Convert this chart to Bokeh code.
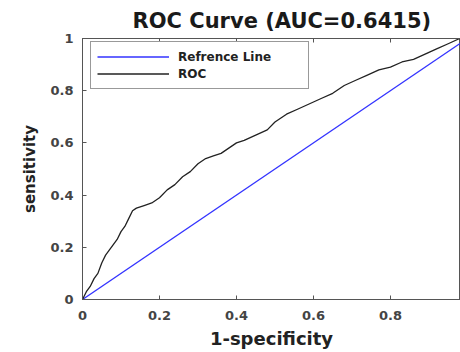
from bokeh.plotting import figure
from bokeh.models import LinearAxis, Legend, LegendItem, Range1d, FixedTicker
from bokeh.embed import file_html
from bokeh.resources import INLINE

# ---- data ----
fpr = [0, 0.01, 0.02, 0.03, 0.04, 0.05, 0.06, 0.07, 0.08, 0.09, 0.10, 0.11, 0.12,
       0.13, 0.14, 0.16, 0.18, 0.20, 0.22, 0.24, 0.26, 0.28, 0.30, 0.32, 0.34, 0.36,
       0.38, 0.40, 0.42, 0.45, 0.48, 0.50, 0.53, 0.56, 0.59, 0.62, 0.65, 0.68, 0.71,
       0.74, 0.77, 0.80, 0.83, 0.86, 0.89, 0.92, 0.95, 0.98, 1.0]
tpr = [0, 0.03, 0.05, 0.08, 0.10, 0.14, 0.17, 0.19, 0.21, 0.23, 0.26, 0.28, 0.31,
       0.34, 0.35, 0.36, 0.37, 0.39, 0.42, 0.44, 0.47, 0.49, 0.52, 0.54, 0.55, 0.56,
       0.58, 0.60, 0.61, 0.63, 0.65, 0.68, 0.71, 0.73, 0.75, 0.77, 0.79, 0.82, 0.84,
       0.86, 0.88, 0.89, 0.91, 0.92, 0.94, 0.96, 0.98, 1.0, 1.0]
ref_x = [0, 1]
ref_y = [0, 1]
ticks = [0, 0.2, 0.4, 0.6, 0.8, 1]
title_text = "ROC Curve (AUC=0.6415)"
xlabel = "1-specificity"
ylabel = "sensitivity"
ref_label = "Refrence Line"
roc_label = "ROC"

FONT = "DejaVu Sans"
AX = "#555555"

p = figure(width=460, height=352, output_backend="svg", toolbar_location=None,
           x_range=Range1d(0, 0.982), y_range=Range1d(0, 1),
           min_border_left=82, min_border_right=0, min_border_top=38,
           min_border_bottom=53, x_axis_location=None, y_axis_location=None)
p.background_fill_color = "white"
p.border_fill_color = "white"
p.grid.visible = False
p.outline_line_color = AX
p.outline_line_width = 1

p.title.text = title_text
p.title.align = "left"
p.title.text_font = FONT
p.title.text_font_size = "21px"
p.title.text_font_style = "bold"
p.title.text_color = "#1a1a1a"
p.title.offset = 50
p.title.standoff = 11


def style_axis(ax, labels=True):
    ax.ticker = FixedTicker(ticks=ticks)
    ax.axis_line_color = AX
    ax.major_tick_line_color = AX
    ax.major_tick_in = 4
    ax.major_tick_out = 0
    ax.minor_tick_line_color = None
    ax.major_label_text_font = FONT
    ax.major_label_text_font_style = "bold"
    ax.major_label_text_font_size = "13px"
    ax.major_label_text_color = "#444444"
    ax.axis_label_text_font = FONT
    ax.axis_label_text_font_style = "bold"
    ax.axis_label_text_color = "#222222"
    if not labels:
        ax.major_label_overrides = {t: "" for t in ticks}
        ax.major_label_standoff = 0


xb = LinearAxis(axis_label=xlabel)
style_axis(xb)
xb.major_label_standoff = 11
xb.axis_label_standoff = 5
xb.axis_label_text_font_size = "18px"
p.add_layout(xb, "below")

yl = LinearAxis(axis_label=ylabel)
style_axis(yl)
yl.major_label_standoff = 9
yl.axis_label_standoff = 8
yl.axis_label_text_font_size = "15px"
p.add_layout(yl, "left")

xt = LinearAxis()
style_axis(xt, labels=False)
p.add_layout(xt, "above")

r_ref = p.line(ref_x, ref_y, line_color="#3333ff", line_width=1.3)
r_roc = p.line(fpr, tpr, line_color="#222222", line_width=1.3)

legend = Legend(items=[LegendItem(label=ref_label, renderers=[r_ref]),
                       LegendItem(label=roc_label, renderers=[r_roc])],
                location=(8, 210))
legend.border_line_color = "#333333"
legend.border_line_width = 1
legend.background_fill_color = "white"
legend.background_fill_alpha = 1
legend.label_text_font = FONT
legend.label_text_font_style = "bold"
legend.label_text_font_size = "12px"
legend.label_text_color = "#222222"
legend.padding = 6
legend.spacing = 0
legend.margin = 0
legend.glyph_width = 72
legend.glyph_height = 17
legend.label_height = 17
legend.label_width = 124
legend.label_standoff = 9
p.add_layout(legend, "center")

open("out.html", "w").write(file_html(p, INLINE))
